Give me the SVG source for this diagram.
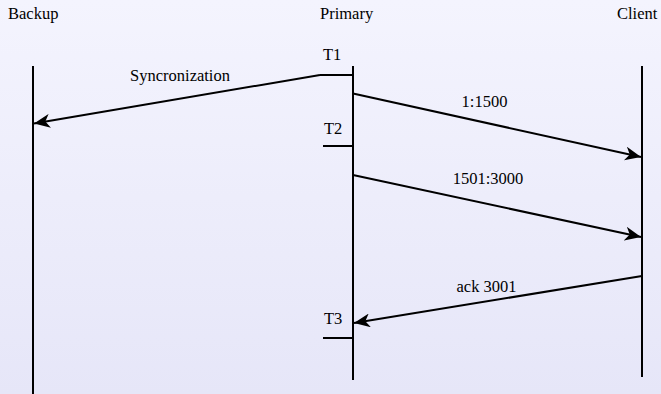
<svg xmlns="http://www.w3.org/2000/svg" width="661" height="394" viewBox="0 0 661 394">
<defs>
<linearGradient id="bg" x1="0" y1="0" x2="0" y2="1">
<stop offset="0" stop-color="#f4f4fe"/>
<stop offset="1" stop-color="#e6e6f8"/>
</linearGradient>
<marker id="arr" markerUnits="userSpaceOnUse" markerWidth="17" markerHeight="14" viewBox="0 0 17 14" refX="16" refY="7" orient="auto">
<path d="M16,7 L0,0 L4.5,7 L0,14 Z" fill="#000"/>
</marker>
<style>
.t{font-family:"Liberation Serif","Times New Roman",serif;font-size:16.5px;fill:#000}
.ll{stroke:#000;stroke-width:2;fill:none}
.msg{stroke:#000;stroke-width:2;fill:none;marker-end:url(#arr)}
</style>
</defs>
<rect width="661" height="394" fill="url(#bg)"/>
<g id="backup">
<text class="t" x="8" y="19">Backup</text>
<line class="ll" x1="33" y1="66" x2="33" y2="394"/>
</g>
<g id="primary">
<text class="t" x="320" y="19">Primary</text>
<line class="ll" x1="353" y1="66" x2="353" y2="380"/>
</g>
<g id="client">
<text class="t" x="617" y="19">Client</text>
<line class="ll" x1="642" y1="66" x2="642" y2="377"/>
</g>
<g id="t1">
<text class="t" x="323" y="60">T1</text>
<line class="ll" x1="320" y1="75" x2="353" y2="75"/>
</g>
<g id="t2">
<text class="t" x="324" y="134">T2</text>
<line class="ll" x1="323" y1="146" x2="353" y2="146"/>
</g>
<g id="t3">
<text class="t" x="324" y="324">T3</text>
<line class="ll" x1="323" y1="338" x2="353" y2="338"/>
</g>
<g id="connectors">
<line class="msg" x1="320" y1="75" x2="34" y2="123.5"/>
<line class="msg" x1="353" y1="93.5" x2="641" y2="157"/>
<line class="msg" x1="353" y1="175" x2="641" y2="237"/>
<line class="msg" x1="642" y1="276" x2="354" y2="323"/>
<text class="t" x="180" y="80.5" text-anchor="middle">Syncronization</text>
<text class="t" x="484.5" y="106.5" text-anchor="middle">1:1500</text>
<text class="t" x="488" y="184" text-anchor="middle">1501:3000</text>
<text class="t" x="486.5" y="291.5" text-anchor="middle">ack 3001</text>
</g>
</svg>
